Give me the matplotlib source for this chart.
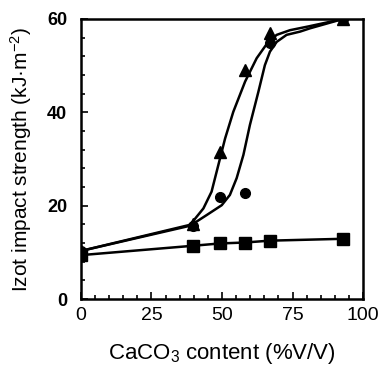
import matplotlib
matplotlib.use('Agg')
import matplotlib.pyplot as plt
from matplotlib.ticker import MultipleLocator

plt.rcParams['font.family'] = ['Liberation Sans', 'DejaVu Sans']
plt.rcParams['mathtext.fontset'] = 'custom'
plt.rcParams['mathtext.rm'] = 'Liberation Sans'
plt.rcParams['mathtext.it'] = 'Liberation Sans:italic'
plt.rcParams['mathtext.bf'] = 'Liberation Sans:bold'

# 數據點
x_pts = [0, 39.6, 49.2, 58.0, 66.9, 92.9]
square_y = [9.4, 11.4, 11.9, 12.1, 12.5, 12.9]
triangle_y = [10.3, 16.1, 31.6, 49.1, 56.9, 60.0]
circle_y = [10.3, 15.7, 21.9, 22.8, 54.8, 60.0]

# 擬合曲線 (沿圖中曲線讀取)
tri_curve_x = [0, 38.7, 43.4, 46.3, 48.7, 51.1, 54.0, 58.2, 62.3, 66.4, 69.4, 74.1, 80.6, 92.9]
tri_curve_y = [10.3, 15.9, 19.4, 23.0, 28.7, 34.4, 40.1, 46.6, 51.6, 55.1, 56.6, 57.6, 58.4, 60.0]
cir_curve_x = [0, 38.7, 44.6, 49.9, 52.8, 55.2, 57.6, 59.9, 62.9, 65.2, 67.0, 69.4, 72.9, 77.7, 81.2, 92.9]
cir_curve_y = [10.3, 15.7, 18.0, 20.1, 22.3, 25.9, 30.9, 37.3, 44.4, 50.1, 53.0, 55.1, 56.6, 57.3, 58.0, 60.0]

fig = plt.figure(figsize=(3.79, 3.68), dpi=100)
ax = fig.add_axes([0.2137, 0.1875, 0.7441, 0.7609])

ax.plot(tri_curve_x, tri_curve_y, color='black', lw=1.8, solid_joinstyle='round')
ax.plot(cir_curve_x, cir_curve_y, color='black', lw=1.8, solid_joinstyle='round')
ax.plot(x_pts, square_y, color='black', lw=1.8, marker='s', ms=8)
ax.plot(x_pts, triangle_y, ls='none', color='black', marker='^', ms=8.5)
ax.plot(x_pts, circle_y, ls='none', color='black', marker='o', ms=7)

ax.set_xlim(0, 100)
ax.set_ylim(0, 60)
ax.xaxis.set_major_locator(MultipleLocator(25))
ax.xaxis.set_minor_locator(MultipleLocator(5))
ax.yaxis.set_major_locator(MultipleLocator(20))
ax.yaxis.set_minor_locator(MultipleLocator(4))
ax.tick_params(which='both', direction='in', width=1.2)
ax.tick_params(which='major', length=5)
ax.tick_params(which='minor', length=3)
ax.tick_params(axis='y', pad=10, labelsize=13)
ax.tick_params(axis='x', pad=6, labelsize=14)
for lbl in ax.get_yticklabels():
    lbl.set_fontweight('bold')
    lbl.set_fontstretch('condensed')
for s in ax.spines.values():
    s.set_linewidth(1.8)

ax.set_xlabel('CaCO$_3$ content (%V/V)', fontsize=16, labelpad=12)
ax.set_ylabel('Izot impact strength (kJ·m$^{-2}$)', fontsize=15, labelpad=9)

fig.savefig('out.png', dpi=100)
